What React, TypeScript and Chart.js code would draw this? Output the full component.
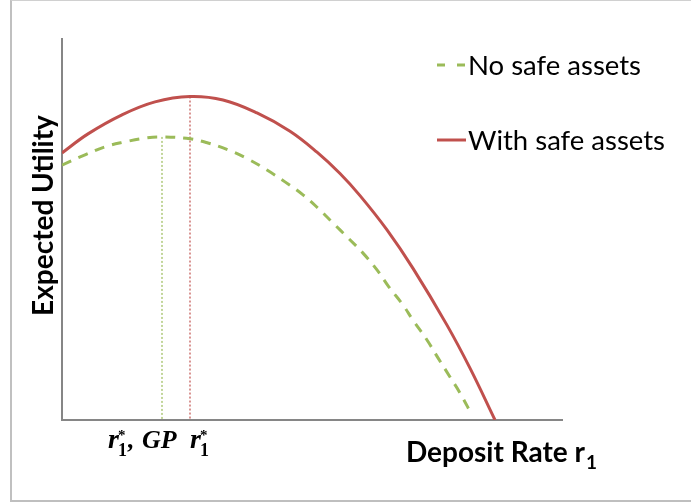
import { useEffect, useRef } from "react";
import { Chart, registerables } from "chart.js";

Chart.register(...registerables);

// Series: "With safe assets" (solid red)
const withSafeX = [0, 5.2, 12, 18.6, 25.6, 32.2, 39, 45.6, 51, 55.6, 59.6, 65, 70.2, 77, 81.6, 86.6];
const withSafeY = [70.1, 75.1, 80.1, 83.5, 84.9, 84.0, 80.6, 75.8, 70.3, 64.7, 58.9, 49.9, 39.8, 24.9, 13.6, 0];

// Series: "No safe assets" (dashed green)
const noSafeX = [0, 4.6, 8.6, 12.6, 16.6, 20, 25.6, 29.2, 33.2, 37.2, 41, 44.6, 48.2, 51.2, 54.2, 57.2, 60.2, 63, 65.4, 68.2, 70.2, 73, 75.2, 77.6, 79.6, 82];
const noSafeY = [66.9, 69.6, 71.7, 73.0, 74.0, 74.3, 73.8, 72.7, 70.9, 68.5, 65.6, 62.5, 59.1, 55.6, 51.7, 47.8, 43.8, 39.4, 34.9, 30.2, 26.2, 21, 16.3, 11.3, 7.1, 1.3];

const seriesLabels = ["No safe assets", "With safe assets"];
const xAxisTitle = "Deposit Rate r";
const xAxisSub = "1";
const yAxisTitle = "Expected Utility";

const RED = "#C0504D";
const GREEN = "#9BBB59";

function peak(xs: number[], ys: number[]) {
  let i = 0;
  for (let k = 1; k < ys.length; k++) if (ys[k] > ys[i]) i = k;
  return { x: xs[i], y: ys[i] };
}

const pts = (xs: number[], ys: number[]) => xs.map((x, i) => ({ x, y: ys[i] }));

const textPlugin = {
  id: "textPlugin",
  afterDraw(chart: any) {
    const ctx = chart.ctx as CanvasRenderingContext2D;
    const xs = chart.scales.x;
    ctx.save();

    // Legend
    const legendX = 437;
    const rows = [
      { y: 65, color: GREEN, dash: [8, 12], label: seriesLabels[0] },
      { y: 140, color: RED, dash: [], label: seriesLabels[1] },
    ];
    rows.forEach((r) => {
      ctx.beginPath();
      ctx.setLineDash(r.dash);
      ctx.strokeStyle = r.color;
      ctx.lineWidth = 3;
      ctx.moveTo(legendX, r.y);
      ctx.lineTo(legendX + 29, r.y);
      ctx.stroke();
      ctx.setLineDash([]);
      ctx.fillStyle = "#000";
      ctx.font = "27.5px Lato";
      ctx.textAlign = "left";
      ctx.textBaseline = "middle";
      ctx.fillText(r.label, legendX + 31, r.y + 1);
    });

    // X axis title
    ctx.fillStyle = "#000";
    ctx.textBaseline = "alphabetic";
    ctx.font = "bold 28px Lato";
    ctx.fillText(xAxisTitle, 406, 462);
    const w = ctx.measureText(xAxisTitle).width;
    ctx.font = "bold 19px Lato";
    ctx.fillText(xAxisSub, 406 + w + 1, 469);

    // Y axis title
    ctx.save();
    ctx.translate(53, 215.5);
    ctx.rotate(-Math.PI / 2);
    ctx.textAlign = "center";
    ctx.font = "bold 28px Lato";
    ctx.fillText(yAxisTitle, 0, 0);
    ctx.restore();

    // Optimum labels
    const pG = peak(noSafeX, noSafeY);
    const pR = peak(withSafeX, withSafeY);
    const drawR = (x0: number, base: number) => {
      ctx.textAlign = "left";
      ctx.font = "italic bold 28px 'Liberation Serif'";
      ctx.fillText("r", x0, base);
      const rw = ctx.measureText("r").width;
      ctx.font = "bold 18px 'Liberation Serif'";
      ctx.fillText("1", x0 + rw - 1, base + 8);
      ctx.font = "bold 15px 'Liberation Serif'";
      ctx.fillText("*", x0 + rw - 1, base - 8);
      return x0 + rw + 9;
    };
    const base = 448;
    let x = drawR(xs.getPixelForValue(pG.x) - 54, base);
    ctx.font = "italic bold 26px 'Liberation Serif'";
    ctx.fillText(",", x, base);
    x += ctx.measureText(", ").width + 1;
    ctx.fillText("GP", x, base);
    drawR(xs.getPixelForValue(pR.x) + 0, base);

    ctx.restore();
  },
};

export default function App() {
  const ref = useRef<HTMLCanvasElement>(null);
  useEffect(() => {
    if (!ref.current) return;
    const pG = peak(noSafeX, noSafeY);
    const pR = peak(withSafeX, withSafeY);
    const chart = new Chart(ref.current, {
      type: "scatter",
      data: {
        datasets: [
          {
            label: seriesLabels[1],
            data: pts(withSafeX, withSafeY),
            showLine: true,
            borderColor: RED,
            borderWidth: 3,
            pointRadius: 0,
            tension: 0.4,
          },
          {
            label: seriesLabels[0],
            data: pts(noSafeX, noSafeY),
            showLine: true,
            borderColor: GREEN,
            borderWidth: 3,
            borderDash: [10, 8],
            pointRadius: 0,
            tension: 0.4,
          },
          {
            label: "drop-green",
            data: [{ x: pG.x, y: pG.y }, { x: pG.x, y: 0 }],
            showLine: true,
            borderColor: GREEN,
            borderWidth: 1.2,
            borderDash: [2, 2],
            pointRadius: 0,
          },
          {
            label: "drop-red",
            data: [{ x: pR.x, y: pR.y }, { x: pR.x, y: 0 }],
            showLine: true,
            borderColor: RED,
            borderWidth: 1.2,
            borderDash: [2, 2],
            pointRadius: 0,
          },
        ],
      },
      options: {
        animation: false,
        responsive: false,
        layout: { padding: { left: 62, top: 39, right: 129, bottom: 84 } },
        plugins: { legend: { display: false }, tooltip: { enabled: false } },
        scales: {
          x: {
            type: "linear",
            min: 0,
            max: 100,
            grid: { display: false, drawTicks: false },
            ticks: { display: false },
            border: { display: true, color: "#868686", width: 2 },
          },
          y: {
            type: "linear",
            min: 0,
            max: 100,
            grid: { display: false, drawTicks: false },
            ticks: { display: false },
            border: { display: true, color: "#868686", width: 2 },
          },
        },
      },
      plugins: [textPlugin],
    } as any);
    return () => chart.destroy();
  }, []);

  return (
    <div style={{ position: "fixed", left: 0, top: 0, width: 691, height: 504, background: "#fff", overflow: "hidden" }}>
      <div
        style={{
          position: "absolute",
          left: 10,
          top: 0,
          width: 700,
          height: 499,
          borderLeft: "2px solid #c0c0c0",
          borderTop: "1px solid #d0d0d0",
          borderBottom: "2px solid #bfbfbf",
        }}
      />
      <canvas ref={ref} width={691} height={504} style={{ position: "absolute", left: 0, top: 0 }} />
    </div>
  );
}
